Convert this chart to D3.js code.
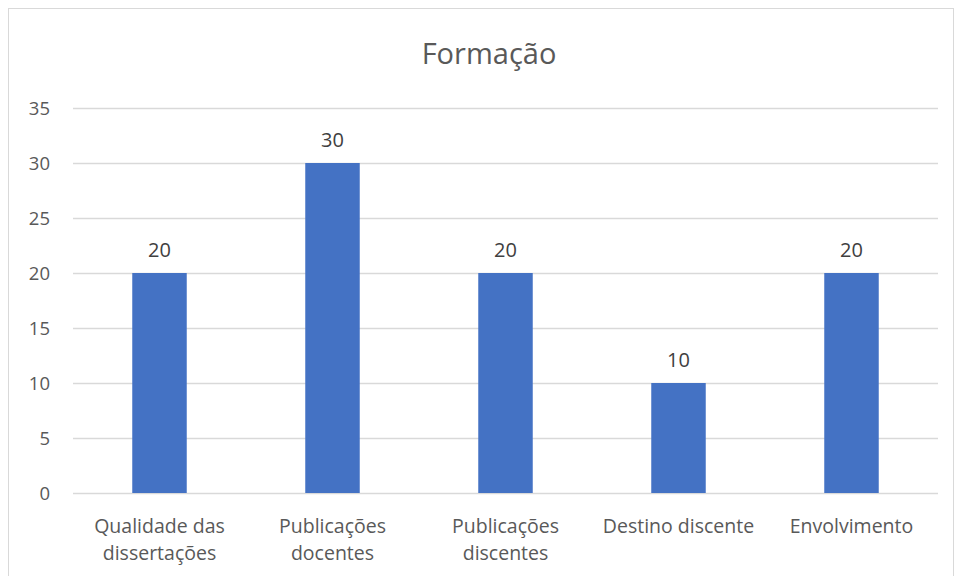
<!DOCTYPE html>
<html>
<head>
<meta charset="utf-8">
<script src="https://cdn.jsdelivr.net/npm/d3@7"></script>
<style>
  body { margin: 0; background: #fff; }
  svg { display: block; font-family: "Open Sans", sans-serif; }
</style>
</head>
<body>
<svg class="chart" width="957" height="576"></svg>
<script>
// dados do gráfico
const categorias = [
  ["Qualidade das", "dissertações"],
  ["Publicações", "docentes"],
  ["Publicações", "discentes"],
  ["Destino discente"],
  ["Envolvimento"]
];
const valores = [20, 30, 20, 10, 20];
const ticks = [0, 5, 10, 15, 20, 25, 30, 35];
const titulo = "Formação";

const w = 957, h = 576;
const m = { top: 108, right: 19, bottom: 83, left: 73 };

const svg = d3.select('svg.chart');

// moldura
svg.append('rect')
  .attr('x', 8.5).attr('y', 8.5)
  .attr('width', w - 12).attr('height', h)
  .attr('fill', 'none')
  .attr('stroke', '#d9d9d9');

const nomes = categorias.map(c => c.join(' '));

const x = d3.scaleBand()
  .domain(nomes)
  .range([m.left, w - m.right])
  .paddingInner(0.685)
  .paddingOuter(0.3425);

const y = d3.scaleLinear()
  .domain([0, 35])
  .range([h - m.bottom, m.top]);

// linhas de grade
svg.append('g')
  .selectAll('line')
  .data(ticks)
  .join('line')
  .attr('x1', m.left).attr('x2', w - m.right)
  .attr('y1', d => Math.round(y(d)) + 0.5)
  .attr('y2', d => Math.round(y(d)) + 0.5)
  .attr('stroke', '#d9d9d9')
  .attr('stroke-width', 1.3);

// rótulos do eixo y
svg.append('g')
  .selectAll('text')
  .data(ticks)
  .join('text')
  .attr('x', 50)
  .attr('y', d => y(d))
  .attr('dy', '0.36em')
  .attr('text-anchor', 'end')
  .attr('fill', '#595959')
  .attr('font-size', 18.5)
  .text(d => d);

// barras
const dados = nomes.map((n, i) => ({ nome: n, valor: valores[i], linhas: categorias[i] }));

svg.append('g')
  .selectAll('rect')
  .data(dados)
  .join('rect')
  .attr('x', d => x(d.nome))
  .attr('y', d => y(d.valor))
  .attr('width', x.bandwidth())
  .attr('height', d => y(0) - y(d.valor))
  .attr('fill', '#4472c4');

// rótulos dos valores
svg.append('g')
  .selectAll('text')
  .data(dados)
  .join('text')
  .attr('x', d => x(d.nome) + x.bandwidth() / 2)
  .attr('y', d => y(d.valor) - 16)
  .attr('text-anchor', 'middle')
  .attr('fill', '#404040')
  .attr('font-size', 20)
  .text(d => d.valor);

// rótulos das categorias
const cat = svg.append('g')
  .selectAll('text')
  .data(dados)
  .join('text')
  .attr('x', d => x(d.nome) + x.bandwidth() / 2)
  .attr('y', 533)
  .attr('text-anchor', 'middle')
  .attr('fill', '#595959')
  .attr('font-size', 19.5);

cat.selectAll('tspan')
  .data(d => d.linhas.map(l => ({ l, cx: x(d.nome) + x.bandwidth() / 2 })))
  .join('tspan')
  .attr('x', d => d.cx)
  .attr('dy', (d, i) => i === 0 ? 0 : 27)
  .text(d => d.l);

// título
svg.append('text')
  .attr('x', 489)
  .attr('y', 64)
  .attr('text-anchor', 'middle')
  .attr('fill', '#595959')
  .attr('font-size', 29)
  .text(titulo);
</script>
</body>
</html>
